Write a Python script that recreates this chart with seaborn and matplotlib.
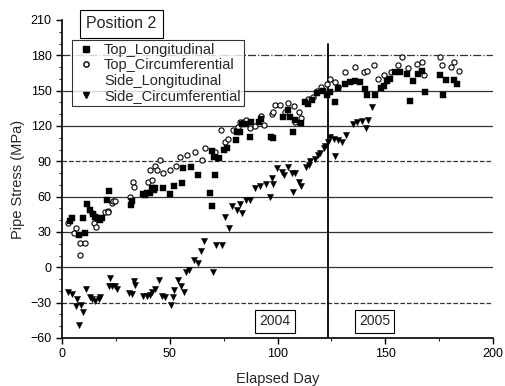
import numpy as np
import pandas as pd
import seaborn as sns

from matplotlib import pyplot as plt
from matplotlib.lines import Line2D
from matplotlib.ticker import MultipleLocator

# values
top_long_day = [3.7, 4.5, 8.0, 9.9, 10.7, 11.7, 13.0, 14.2, 15.3, 16.4, 17.6, 18.4, 20.7, 22.0,
                32.0, 32.4, 37.8, 38.5, 39.4, 41.0, 41.6, 42.7, 43.0, 47.0, 50.0, 51.8, 55.6, 56.0,
                60.0, 63.2, 68.6, 69.5, 69.6, 70.4, 71.0, 72.8, 75.2, 76.7, 80.6, 81.4, 82.6, 83.7,
                85.3, 87.0, 87.6, 91.5, 92.4, 97.0, 98.0, 102.7, 105.0, 106.0, 107.3, 108.0, 111.0,
                112.8, 114.0, 116.0, 118.5, 121.0, 123.0, 124.4, 126.7, 128.2, 131.4, 133.7, 136.0,
                138.3, 140.6, 141.4, 145.0, 147.8, 149.3, 150.8, 152.3, 154.6, 157.0, 160.0, 161.5,
                163.0, 165.4, 167.0, 168.5, 175.6, 176.8, 178.0, 182.0, 183.4]
top_long_val = [39, 42, 27.5, 42, 29, 54, 48.5, 45, 43, 42, 40, 42, 57, 65,
                53, 56, 62, 61.5, 63.5, 63, 67, 65.5, 67, 67.6, 62, 69, 72, 84,
                85, 78, 63, 52, 98.6, 93.5, 78, 93, 100, 101, 108, 115, 115, 122,
                122, 111, 123.6, 123.6, 126, 111, 110, 128, 133.4, 128, 115, 125, 122.5,
                140.7, 139, 142, 148, 150, 146, 149, 140.7, 152, 156, 157, 158.4,
                157, 151.5, 146, 146, 152, 154, 158.4, 160, 165.6, 165.6, 164, 141,
                158, 164, 167, 149, 163, 146.6, 159, 159, 156]

top_circ_day = [3.0, 5.6, 6.5, 8.2, 8.2, 10.6, 13.8, 15.0, 16.0, 20.0, 21.4, 21.5, 23.0, 23.8,
                24.6, 31.6, 33.0, 33.6, 40.0, 40.8, 41.6, 43.0, 44.0, 45.5, 47.0, 50.0, 53.0,
                54.8, 58.0, 61.7, 64.8, 66.3, 71.0, 71.8, 74.0, 75.6, 77.0, 79.4, 81.7, 82.6,
                84.0, 85.0, 85.5, 87.0, 89.6, 92.4, 93.5, 97.3, 98.0, 99.0, 101.0, 103.6, 105.0,
                107.6, 108.3, 110.0, 111.0, 114.0, 116.3, 118.5, 120.0, 122.8, 124.4, 126.7,
                128.0, 131.4, 136.0, 140.0, 141.4, 144.8, 146.5, 149.5, 152.6, 155.7, 157.6,
                160.7, 164.6, 167.0, 167.8, 175.6, 176.4, 180.3, 181.8, 184.0]
top_circ_val = [37.6, 29, 33, 21, 10.5, 21, 46.4, 38, 34, 46.8, 48, 47.3, 55, 56,
                56, 60, 72.7, 68, 72.7, 82.7, 74, 86, 82.7, 91, 80, 82.7, 86,
                94, 95.6, 98, 91, 101, 98, 93, 116.6, 106.7, 109, 116.6, 119, 123.6,
                123, 123.6, 125, 118, 120, 128.5, 120.6, 130, 132, 138, 138, 132, 139.5,
                137, 123.6, 132, 127, 143, 145, 150, 153, 155.6, 160, 157,
                153, 166, 170, 166, 167, 171.5, 160, 163, 166, 171.5, 179,
                169, 173, 174.6, 163, 179, 171.5, 170, 174, 167]

side_long_day = []
side_long_val = []

side_circ_day = [3.0, 4.5, 6.5, 6.8, 7.9, 9.0, 9.9, 11.0, 12.8, 13.9, 15.5, 17.0, 17.8, 21.6,
                 22.3, 23.0, 24.6, 25.4, 31.3, 32.4, 33.2, 34.0, 37.8, 39.4, 41.0, 41.8, 43.0,
                 44.9, 46.4, 48.0, 50.5, 51.3, 52.0, 53.6, 55.0, 56.4, 57.5, 59.0, 61.4, 63.0,
                 64.6, 65.8, 70.0, 71.3, 74.4, 75.6, 77.4, 78.7, 81.0, 82.6, 83.3, 85.6, 87.0,
                 89.6, 92.0, 94.5, 96.5, 97.3, 98.0, 99.6, 102.0, 103.0, 105.0, 106.7, 107.3,
                 108.0, 110.0, 111.0, 113.0, 114.5, 115.0, 117.6, 119.0, 119.7, 121.7, 122.0,
                 123.5, 124.4, 126.0, 126.7, 128.0, 129.7, 132.0, 135.0, 137.0, 139.0, 141.0,
                 142.0, 143.7]
side_circ_val = [-20.6, -23, -33, -27, -49, -31.7, -38, -18, -25, -27, -29, -27, -25, -16,
                 -9, -16, -16, -18, -22, -23, -12, -15, -24.5, -24.5, -23.5, -21, -18,
                 -11, -24.5, -25, -32, -25, -19, -11, -16, -21, -4, -2, 6, 4,
                 14, 22, -4, 19, 19, 43, 33, 52, 49, 54, 46, 57, 57,
                 67, 69, 70.5, 60, 75.6, 71, 84, 81, 78, 85.5, 80, 64,
                 80, 72.7, 69, 85.5, 87, 90, 92, 95, 97, 101, 103,
                 106, 111, 109, 94.5, 108, 106, 112, 122, 123, 124, 118,
                 125, 136]

grid_levels = [180, 150, 120, 90, 60, 30, 0, -30]
grid_styles = ['-.', '-', '-', '--', '-', '-', '-', '--']
year_split = 123.5

top_long = pd.DataFrame({"day": top_long_day, "stress": top_long_val})
top_circ = pd.DataFrame({"day": top_circ_day, "stress": top_circ_val})
side_circ = pd.DataFrame({"day": side_circ_day, "stress": side_circ_val})

sns.set_style("ticks")
plt.rcParams['font.family'] = ['Liberation Sans', 'DejaVu Sans']

fig = plt.figure(figsize=(5.05, 3.86), dpi=100)
ax = fig.add_axes([0.1228, 0.1244, 0.8535, 0.8238])

for lvl, ls in zip(grid_levels, grid_styles):
    ax.plot([0, 200], [lvl, lvl], color='#333333', linestyle=ls, linewidth=0.9, zorder=1)

ax.plot([year_split, year_split], [-60, 190], color='black', linewidth=1.3, zorder=1)

sns.scatterplot(data=top_long, x="day", y="stress", marker='s', s=15, color='black',
                edgecolor='black', linewidth=0.3, ax=ax, zorder=3)
sns.scatterplot(data=top_circ, x="day", y="stress", marker='o', s=14, facecolor='white',
                edgecolor='black', linewidth=0.8, ax=ax, zorder=2)
sns.scatterplot(data=side_circ, x="day", y="stress", marker='v', s=20, color='black',
                edgecolor='black', linewidth=0.3, ax=ax, zorder=3)
ax.plot(side_long_day, side_long_val, linestyle='none')

ax.set_xlim(0, 200)
ax.set_ylim(-60, 210)
ax.set_yticks(range(-60, 211, 30))
ax.set_xticks([0, 50, 100, 150, 200])
ax.xaxis.set_minor_locator(MultipleLocator(25))
ax.yaxis.set_minor_locator(MultipleLocator(10))
ax.tick_params(which='major', direction='out', length=4, width=1, labelsize=9, colors='black')
ax.tick_params(which='minor', direction='out', length=2, width=0.8)
sns.despine(ax=ax)
for sp in ['left', 'bottom']:
    ax.spines[sp].set_linewidth(1.2)
    ax.spines[sp].set_color('black')

ax.set_xlabel("Elapsed Day", fontsize=10.5, labelpad=8)
ax.set_ylabel("Pipe Stress (MPa)", fontsize=10.5, labelpad=4)

handles = [
    Line2D([], [], marker='s', linestyle='none', color='black', markersize=3.8),
    Line2D([], [], marker='o', linestyle='none', markerfacecolor='white',
           markeredgecolor='black', markersize=3.8),
    Line2D([], [], marker='', linestyle='none'),
    Line2D([], [], marker='v', linestyle='none', color='black', markersize=4.5),
]
labels = ["Top_Longitudinal", "Top_Circumferential", "Side_Longitudinal", "Side_Circumferential"]
leg = ax.legend(handles, labels, loc='upper left', bbox_to_anchor=(0.023, 0.937),
                fontsize=10.5, frameon=True, fancybox=False, borderpad=0.2,
                labelspacing=0.1, handletextpad=0.5, handlelength=1.5, borderaxespad=0)
leg.get_frame().set_edgecolor('black')
leg.get_frame().set_linewidth(0.8)

box = dict(boxstyle='square,pad=0.4', facecolor='white', edgecolor='black', linewidth=0.8)
ax.text(27.4, 206.6, "Position 2", fontsize=11.5, va='center', ha='center', bbox=box)
box2 = dict(boxstyle='square,pad=0.3', facecolor='white', edgecolor='black', linewidth=0.8)
ax.text(98.8, -46, "2004", fontsize=10, va='center', ha='center', bbox=box2)
ax.text(145, -46, "2005", fontsize=10, va='center', ha='center', bbox=box2)

fig.savefig("out.png", dpi=100)
